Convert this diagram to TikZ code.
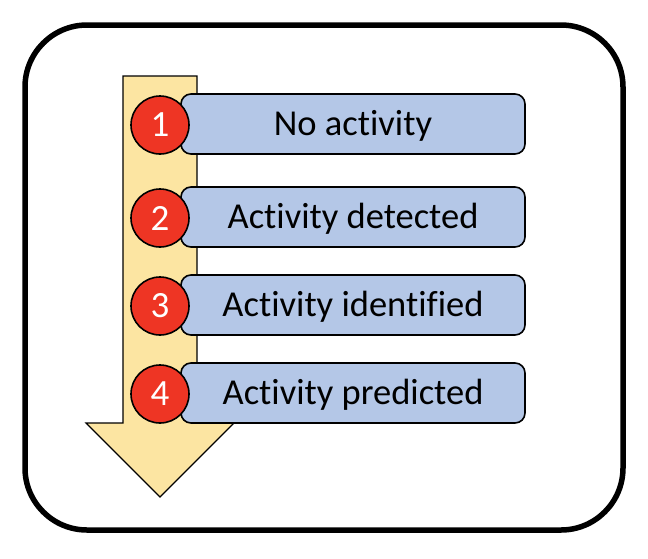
\documentclass[tikz,border=0pt]{standalone}
\usepackage{fontspec}
\setmainfont[Ligatures=NoCommon]{Carlito}
\definecolor{arrowfill}{HTML}{FCE5A2}
\definecolor{boxfill}{HTML}{B4C7E7}
\definecolor{circfill}{HTML}{EE3524}
\begin{document}
\begin{tikzpicture}[x=1pt,y=-1pt,
  stepbox/.style={draw=black,line width=1.6pt,fill=boxfill,rounded corners=10pt,minimum width=344pt,minimum height=60pt,font=\fontsize{36.5}{40}\selectfont,inner sep=0pt,text height=26pt,text depth=3pt},
  numcirc/.style={circle,draw=black,line width=1.6pt,fill=circfill,minimum size=58pt,inner sep=0pt,text=white,font=\fontsize{37}{38}\selectfont}]
\useasboundingbox (0,0) rectangle (648,558);
\draw[line width=5.5pt,rounded corners=62pt] (25,25) rectangle (623,530);
\draw[line width=1.2pt,fill=arrowfill] (123,76) -- (197,76) -- (197,423) -- (234,423) -- (160,497) -- (86,423) -- (123,423) -- cycle;
\foreach \i/\y/\t in {1/124/No activity,2/217/Activity detected,3/305/Activity identified,4/393/Activity predicted}{
  \node[stepbox] (b\i) at (353,\y) {\t};
  \node[numcirc] (c\i) at (160,\y+1) {\i};
}
\end{tikzpicture}
\end{document}
